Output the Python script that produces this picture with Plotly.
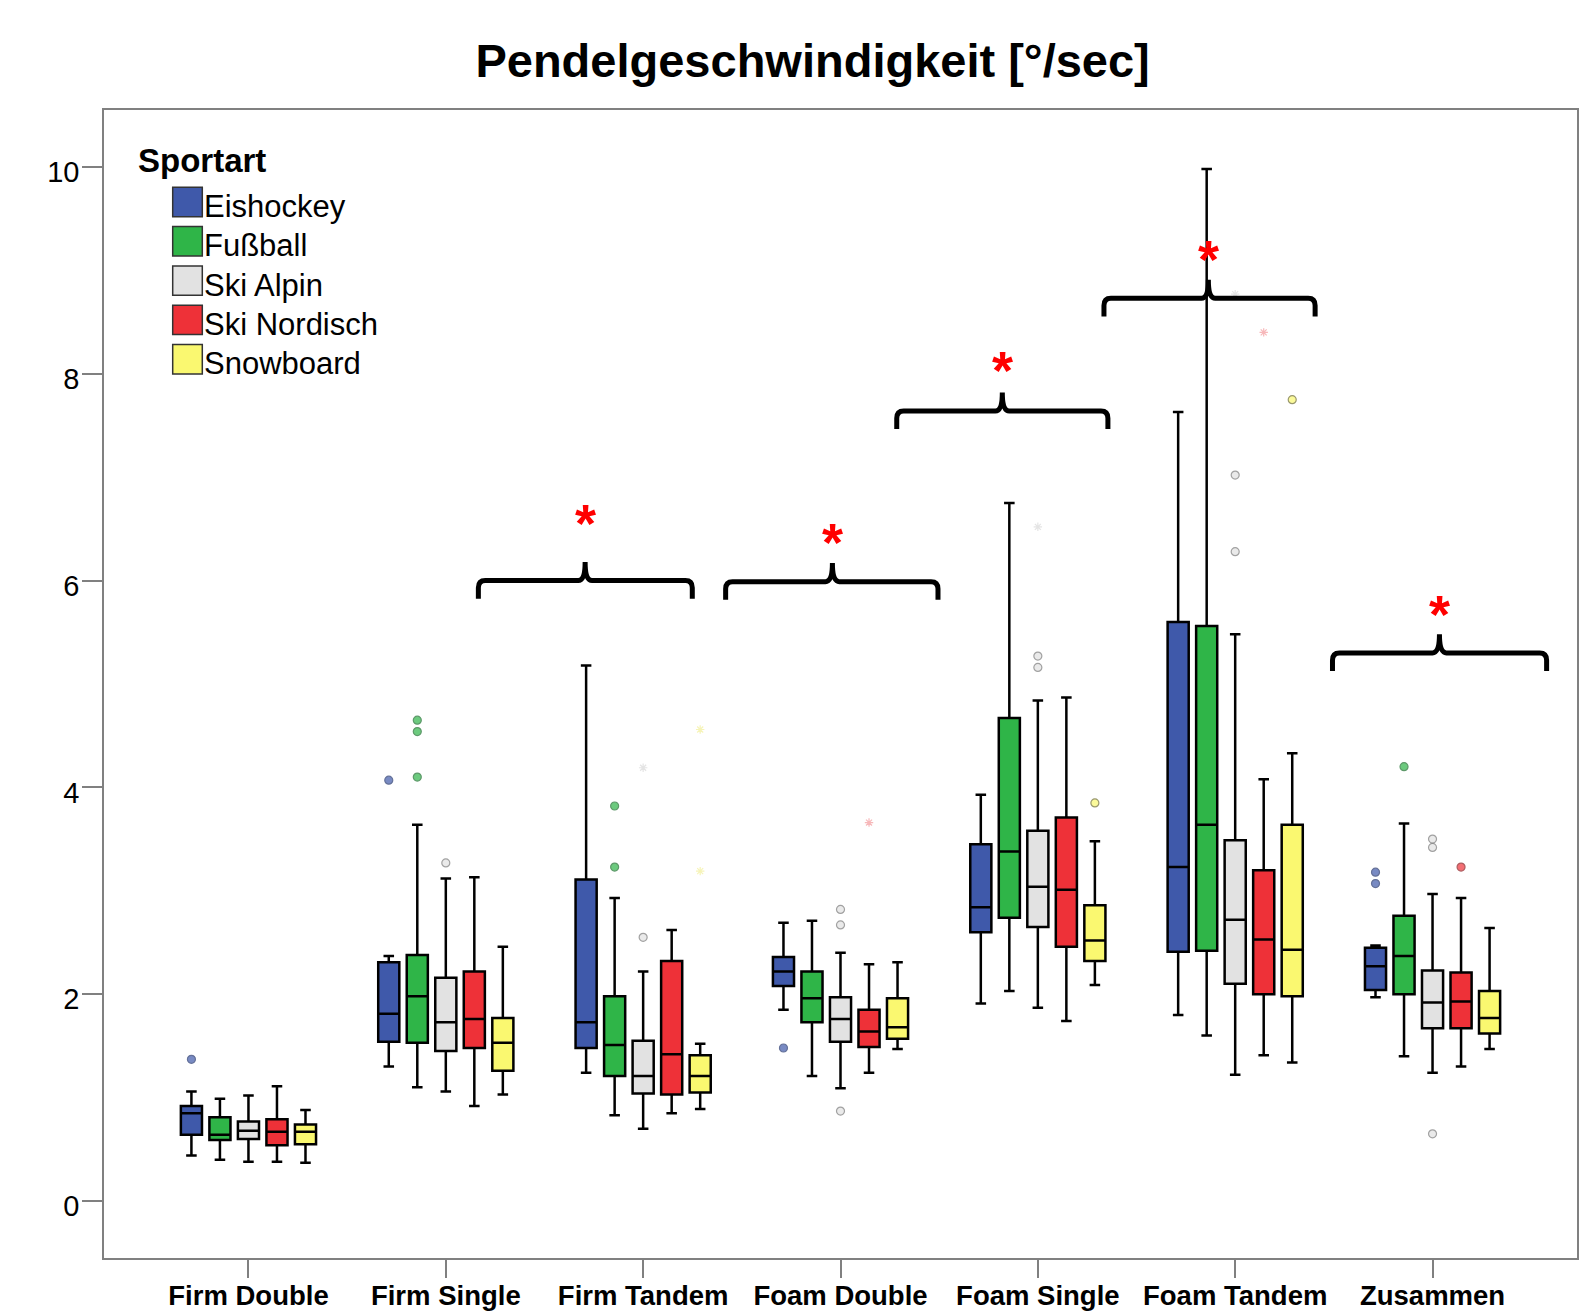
import plotly.graph_objects as go

# ---------------- data ----------------
categories = ["Firm Double", "Firm Single", "Firm Tandem", "Foam Double",
              "Foam Single", "Foam Tandem", "Zusammen"]
sports = ["Eishockey", "Fußball", "Ski Alpin", "Ski Nordisch", "Snowboard"]

eis_low = [0.44, 1.30, 1.24, 1.85, 1.91, 1.80, 1.97]
eis_q1 = [0.64, 1.54, 1.48, 2.08, 2.60, 2.41, 2.04]
eis_med = [0.85, 1.81, 1.73, 2.22, 2.84, 3.23, 2.27]
eis_q3 = [0.92, 2.31, 3.11, 2.36, 3.45, 5.60, 2.45]
eis_up = [1.06, 2.37, 5.18, 2.69, 3.93, 7.63, 2.47]

fus_low = [0.40, 1.10, 0.83, 1.21, 2.03, 1.60, 1.40]
fus_q1 = [0.59, 1.53, 1.21, 1.73, 2.74, 2.42, 2.00]
fus_med = [0.64, 1.98, 1.51, 1.96, 3.38, 3.64, 2.37]
fus_q3 = [0.81, 2.38, 1.98, 2.22, 4.67, 5.56, 2.76]
fus_up = [0.99, 3.64, 2.93, 2.71, 6.75, 9.98, 3.65]

alp_low = [0.38, 1.06, 0.70, 1.09, 1.87, 1.22, 1.24]
alp_q1 = [0.60, 1.45, 1.04, 1.54, 2.65, 2.10, 1.67]
alp_med = [0.68, 1.73, 1.21, 1.76, 3.04, 2.72, 1.92]
alp_q3 = [0.77, 2.16, 1.55, 1.97, 3.58, 3.49, 2.23]
alp_up = [1.02, 3.12, 2.22, 2.40, 4.84, 5.48, 2.97]

nor_low = [0.38, 0.92, 0.85, 1.24, 1.74, 1.41, 1.30]
nor_q1 = [0.54, 1.48, 1.03, 1.49, 2.46, 2.00, 1.67]
nor_med = [0.67, 1.76, 1.42, 1.64, 3.01, 2.53, 1.93]
nor_q3 = [0.79, 2.22, 2.32, 1.85, 3.71, 3.20, 2.21]
nor_up = [1.11, 3.13, 2.62, 2.29, 4.87, 4.08, 2.93]

snb_low = [0.37, 1.03, 0.89, 1.47, 2.09, 1.34, 1.47]
snb_q1 = [0.55, 1.26, 1.05, 1.57, 2.32, 1.98, 1.62]
snb_med = [0.67, 1.53, 1.21, 1.68, 2.52, 2.43, 1.77]
snb_q3 = [0.74, 1.77, 1.41, 1.96, 2.86, 3.64, 2.03]
snb_up = [0.88, 2.46, 1.52, 2.31, 3.48, 4.33, 2.64]

# outliers: category, value, kind ("o" = outlier, "*" = extreme)
eis_out_x = ["Firm Double", "Firm Single", "Foam Double", "Zusammen", "Zusammen"]
eis_out_y = [1.37, 4.07, 1.48, 3.18, 3.07]
eis_out_k = ["o", "o", "o", "o", "o"]

fus_out_x = ["Firm Single", "Firm Single", "Firm Single", "Firm Tandem", "Firm Tandem", "Zusammen"]
fus_out_y = [4.65, 4.54, 4.10, 3.82, 3.23, 4.20]
fus_out_k = ["o", "o", "o", "o", "o", "o"]

alp_out_x = ["Firm Single", "Firm Tandem", "Firm Tandem", "Foam Double", "Foam Double", "Foam Double",
             "Foam Single", "Foam Single", "Foam Single", "Foam Tandem", "Foam Tandem", "Foam Tandem",
             "Zusammen", "Zusammen", "Zusammen"]
alp_out_y = [3.27, 2.55, 4.19, 2.82, 2.67, 0.87, 5.27, 5.16, 6.52, 7.02, 6.28, 8.77, 3.50, 3.42, 0.65]
alp_out_k = ["o", "o", "*", "o", "o", "o", "o", "o", "*", "o", "o", "*", "o", "o", "o"]

nor_out_x = ["Foam Double", "Foam Tandem", "Zusammen"]
nor_out_y = [3.66, 8.40, 3.23]
nor_out_k = ["*", "*", "o"]

snb_out_x = ["Firm Tandem", "Firm Tandem", "Foam Single", "Foam Tandem"]
snb_out_y = [4.56, 3.19, 3.85, 7.75]
snb_out_k = ["*", "*", "o", "o"]

# significance braces (category index units) and star heights
brace_left = [1.165, 2.418, 3.285, 4.335, 5.493]
brace_right = [2.249, 3.494, 4.355, 5.405, 6.578]
brace_peak = [1.706, 2.959, 3.820, 4.864, 6.035]
brace_level = [6.00, 5.99, 7.64, 8.73, 5.30]
star_level = [6.67, 6.49, 8.15, 9.23, 5.79]

title_text = "Pendelgeschwindigkeit [°/sec]"
legend_title = "Sportart"
y_ticks = [0, 2, 4, 6, 8, 10]

# ---------------- styles ----------------
fills = ["#3F59AA", "#2FB548", "#E2E2E2", "#EE3138", "#FAF870"]
edge = ["#24366e", "#1b6e2c", "#7a7a7a", "#8a1a1e", "#6e6c30"]
faint = ["#aab6dd", "#9fdcab", "#d9d9d9", "#f49a9d", "#f2ef9a"]
FONT = "Liberation Sans, Arial, sans-serif"

box_stats = [
    (eis_low, eis_q1, eis_med, eis_q3, eis_up),
    (fus_low, fus_q1, fus_med, fus_q3, fus_up),
    (alp_low, alp_q1, alp_med, alp_q3, alp_up),
    (nor_low, nor_q1, nor_med, nor_q3, nor_up),
    (snb_low, snb_q1, snb_med, snb_q3, snb_up),
]
outliers = [
    (eis_out_x, eis_out_y, eis_out_k),
    (fus_out_x, fus_out_y, fus_out_k),
    (alp_out_x, alp_out_y, alp_out_k),
    (nor_out_x, nor_out_y, nor_out_k),
    (snb_out_x, snb_out_y, snb_out_k),
]

BOXGAP = 0.2775

fig = go.Figure()
for i, s in enumerate(sports):
    lo, q1, md, q3, up = box_stats[i]
    fig.add_trace(go.Box(
        name=s, x=categories, q1=q1, median=md, q3=q3,
        lowerfence=lo, upperfence=up,
        fillcolor=fills[i], line=dict(color="black", width=2.5),
        whiskerwidth=0.5, boxpoints=False, showlegend=False,
    ))

for i, s in enumerate(sports):
    ox, oy, ok = outliers[i]
    fig.add_trace(go.Scatter(
        name=s + " Ausreißer", x=ox, y=oy, mode="markers", orientation="v",
        showlegend=False,
        marker=dict(
            symbol=["circle" if k == "o" else "asterisk-open" for k in ok],
            size=[8 if k == "o" else 7 for k in ok],
            color=[fills[i] if k == "o" else faint[i] for k in ok],
            line=dict(color=[edge[i] if k == "o" else faint[i] for k in ok],
                      width=[1.2 if k == "o" else 1.2 for k in ok]),
        ),
    ))

# ---------------- layout geometry ----------------
W, H = 1591, 1315
ML, MR, MT, MB = 104, 14, 110, 57
PW, PH = W - ML - MR, H - MT - MB


def px_x(px):
    return (px - ML) / PW


def px_y(py):
    return (H - MB - py) / PH


shapes = []
annotations = []

# braces
DX, DY, HOOK, RISE = 0.035, 0.07, 0.175, 0.18
for xl, xr, xc, yl, ys in zip(brace_left, brace_right, brace_peak, brace_level, star_level):
    path = (f"M {xl},{yl - HOOK} L {xl},{yl - DY} Q {xl},{yl} {xl + DX},{yl} "
            f"L {xc - DX},{yl} Q {xc},{yl} {xc},{yl + RISE} "
            f"Q {xc},{yl} {xc + DX},{yl} L {xr - DX},{yl} "
            f"Q {xr},{yl} {xr},{yl - DY} L {xr},{yl - HOOK}")
    shapes.append(dict(type="path", xref="x", yref="y", path=path,
                       line=dict(color="black", width=5)))
    annotations.append(dict(x=xc, y=ys, xref="x", yref="y", text="*",
                            showarrow=False, xanchor="center", yanchor="middle",
                            yshift=-12,
                            font=dict(family=FONT, size=54, color="#FF0000", weight="bold")))

# legend (manual)
annotations.append(dict(x=px_x(136), y=px_y(172.7 - 0.358 * 33), xref="paper", yref="paper",
                        text=legend_title, showarrow=False, xanchor="left", yanchor="middle",
                        font=dict(family=FONT, size=33, color="black", weight="bold")))
for i, s in enumerate(sports):
    top = 187.3 + i * 39.3
    shapes.append(dict(type="rect", xref="paper", yref="paper",
                       x0=px_x(172.7), x1=px_x(202.3), y0=px_y(top + 29.4), y1=px_y(top),
                       fillcolor=fills[i], line=dict(color="#333333", width=1.5)))
    annotations.append(dict(x=px_x(202), y=px_y(217.5 + i * 39.3 - 0.358 * 31),
                            xref="paper", yref="paper", text=s, showarrow=False,
                            xanchor="left", yanchor="middle",
                            font=dict(family=FONT, size=31, color="black")))

fig.update_layout(
    width=W, height=H,
    margin=dict(l=ML, r=MR, t=MT, b=MB, pad=0, autoexpand=False),
    paper_bgcolor="white", plot_bgcolor="white",
    boxmode="group", boxgap=BOXGAP, boxgroupgap=0.26,
    scattermode="group", scattergap=BOXGAP,
    title=dict(text=title_text, x=812.6 / W, xref="container", xanchor="center",
               y=1 - 61 / H, yref="container", yanchor="middle", automargin=False,
               font=dict(family=FONT, size=47, color="black", weight="bold")),
    shapes=shapes, annotations=annotations,
    showlegend=False,
    xaxis=dict(type="category", categoryorder="array", categoryarray=categories,
               range=[-0.732, 6.732], showgrid=False, zeroline=False, automargin=False,
               showline=True, mirror=True, linecolor="#808080", linewidth=1.5,
               ticks="outside", ticklen=18, tickwidth=1.5, tickcolor="#808080",
               ticklabelstandoff=-6,
               tickfont=dict(family=FONT, size=27.5, color="black", weight="bold")),
    yaxis=dict(range=[-0.551, 10.551], tickvals=y_ticks, showgrid=False, zeroline=False,
               automargin=False,
               showline=True, mirror=True, linecolor="#808080", linewidth=1.5,
               ticks="outside", ticklen=20, tickwidth=1.5, tickcolor="#808080",
               ticklabelstandoff=-3, ticklabelshift=5,
               tickfont=dict(family=FONT, size=29, color="black")),
)

fig.write_html("out.html")
